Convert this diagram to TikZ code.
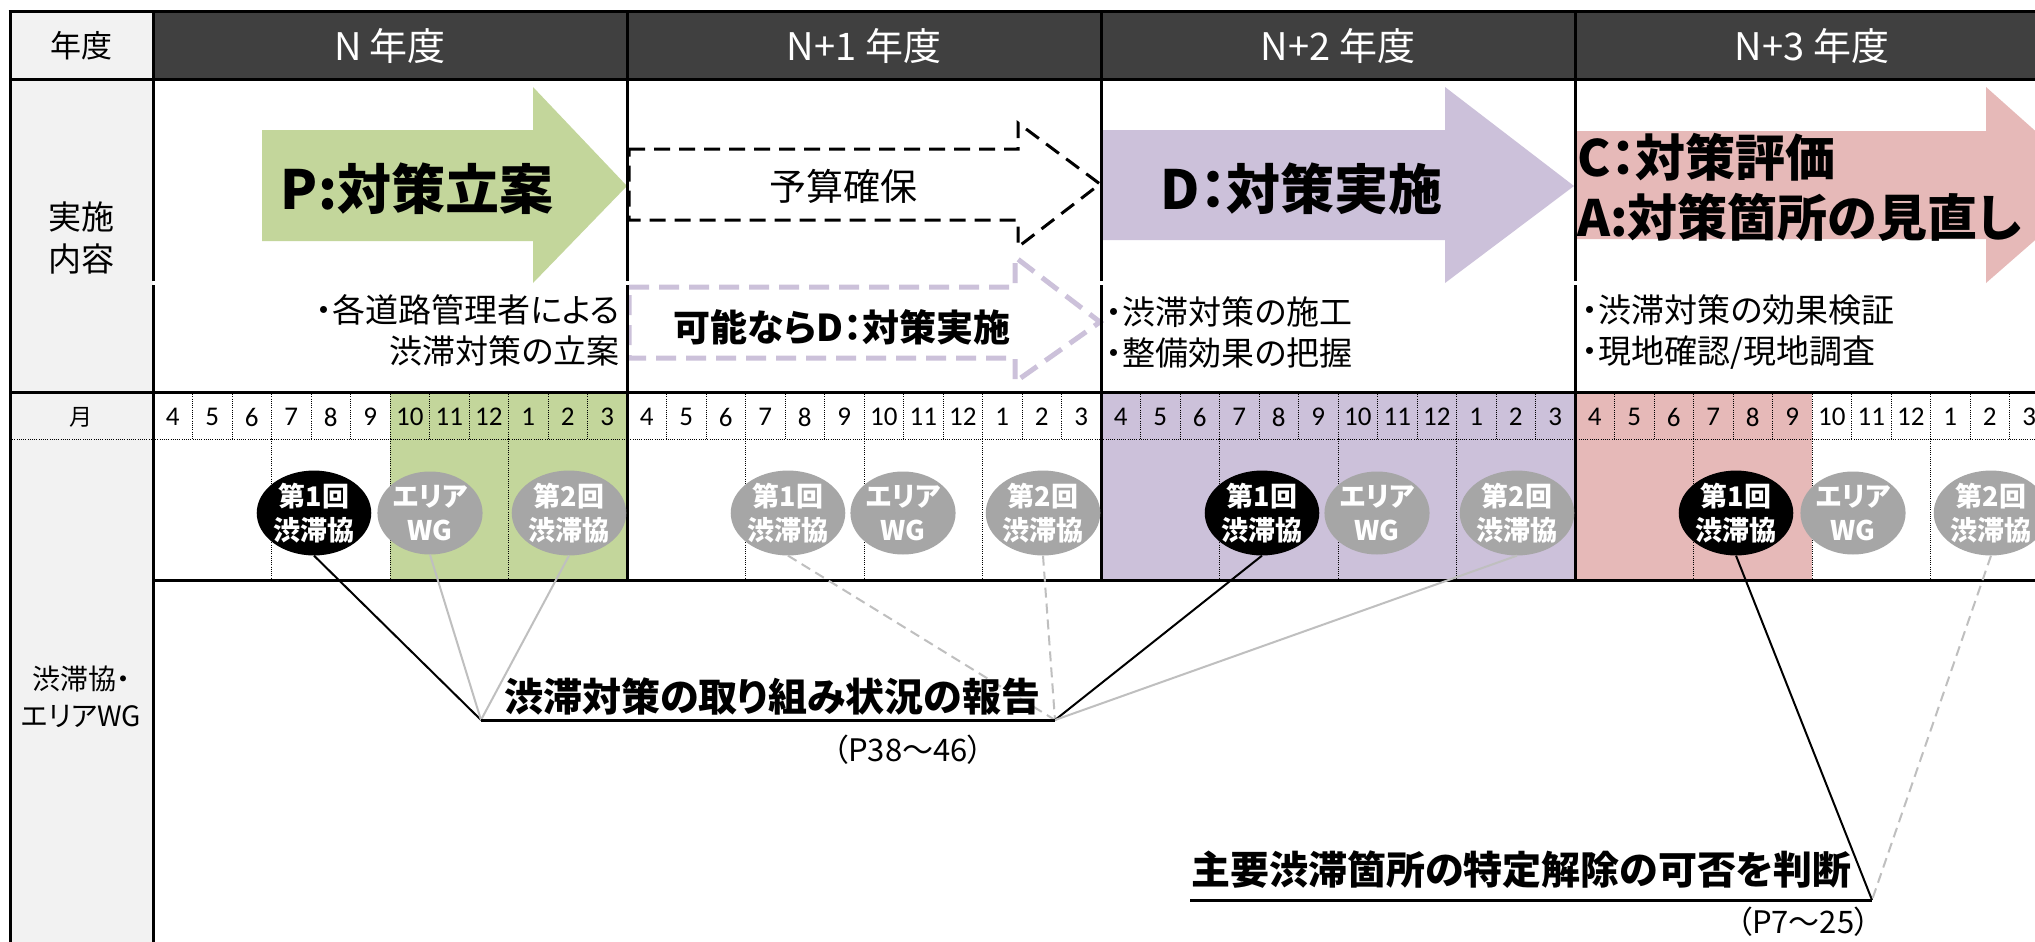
\documentclass[tikz,border=0pt]{standalone}
\usepackage{fontspec}
\setmainfont{Noto Sans CJK JP}[RawFeature=+palt]
\newfontfamily\digitfont{Carlito}
\usetikzlibrary{shapes.geometric}
\definecolor{hdr}{HTML}{404040}
\definecolor{lbl}{HTML}{F2F2F2}
\definecolor{grn}{HTML}{C3D69B}
\definecolor{lav}{HTML}{CCC1DA}
\definecolor{pnk}{HTML}{E6B9B8}
\definecolor{mgray}{HTML}{A6A6A6}
\definecolor{lgray}{HTML}{BFBFBF}
\newcommand{\fsz}[2]{\fontsize{#1}{#2}\selectfont}
\begin{document}
\begin{tikzpicture}[x=1pt,y=-1pt,
  rule/.style={line width=3pt, black},
  dotrule/.style={line width=0.9pt, black, dash pattern=on 1pt off 1.2pt},
  meet/.style={ellipse, minimum width=112pt, minimum height=83pt, inner sep=0pt,
    text=white, align=center, font=\bfseries\fsz{27}{34}},
  meetk/.style={meet, fill=black},
  meetg/.style={meet, fill=mgray},
  wgnode/.style={meet, fill=mgray, minimum width=90pt},
  lblnode/.style={inner sep=0pt, align=center, text=black},
  yrhead/.style={inner sep=0pt, text=white, font=\fsz{38}{42}},
  monum/.style={inner sep=0pt, font=\digitfont\fsz{27}{30}},
  desc/.style={inner sep=0pt, font=\fsz{33}{41}},
  link/.style={line width=2pt, black},
  glink/.style={line width=2pt, lgray},
  dlink/.style={line width=2pt, lgray, dash pattern=on 10pt off 6pt},
  bigtext/.style={inner sep=0pt, font=\bfseries\fsz{54}{60}}
]
\useasboundingbox (0,0) rectangle (2035,942);
\clip (0,0) rectangle (2035,942);
\fill[white] (0,0) rectangle (2035,942);

% ---------- fills ----------
\fill[lbl] (10,12) rectangle (153,960);
\fill[hdr] (153,12) rectangle (2060,80);
\fill[grn] (390,392) rectangle (627,580);
\fill[lav] (1101,392) rectangle (1575,580);
\fill[pnk] (1575,392) rectangle (1812,580);

% ---------- process arrows ----------
\fill[grn] (262,130) -- (533,130) -- (533,87) -- (627,186) -- (533,283) -- (533,241) -- (262,241) -- cycle;
\fill[lav] (1102,130) -- (1445,130) -- (1445,87) -- (1574,186) -- (1445,283) -- (1445,240) -- (1102,240) -- cycle;
\fill[pnk] (1575,131) -- (1986,131) -- (1986,87) -- (2097,186) -- (1986,283) -- (1986,239) -- (1575,239) -- cycle;
\draw[line width=3pt, black, dash pattern=on 16pt off 9pt]
  (629,149) -- (1018,149) -- (1018,123) -- (1100,184) -- (1018,247) -- (1018,220) -- (629,220) -- cycle;
\draw[line width=5pt, lav, dash pattern=on 20pt off 10pt]
  (629,287) -- (1015,287) -- (1015,257) -- (1100,322) -- (1015,382) -- (1015,358) -- (629,358) -- cycle;

% ---------- grid ----------
\foreach \k in {0,1,2,3} {
  \pgfmathsetmacro\Y{153+474*\k}
  \foreach \i in {1,...,11} {
    \draw[dotrule] ({\Y+39.5*\i},392) -- ({\Y+39.5*\i},439);
  }
  \foreach \i in {3,6,9} {
    \draw[dotrule] ({\Y+39.5*\i},439) -- ({\Y+39.5*\i},580);
  }
}
\draw[dotrule] (10,439) -- (2060,439);
\draw[rule] (8.5,12) -- (2060,12);
\draw[rule] (10,80) -- (2060,80);
\draw[rule] (10,392) -- (2060,392);
\draw[rule] (153,580) -- (2060,580);
\draw[rule] (10,10.5) -- (10,960);
\draw[rule] (153,12) -- (153,281);
\draw[rule] (153,285) -- (153,960);
\foreach \x in {627,1101,1575} {
  \draw[rule] (\x,12) -- (\x,281);
  \draw[rule] (\x,285) -- (\x,580);
}

% ---------- header texts ----------
\node[lblnode, font=\fsz{31}{34}] (lb-year) at (81,46) {年度};
\node[lblnode, font=\fsz{33}{42}] (lb-act) at (81,238) {実施\\内容};
\node[lblnode, font=\fsz{23}{26}] (lb-month) at (81,417) {月};
\node[lblnode, font=\fsz{28}{37}] (lb-meet) at (81,697) {渋滞協・\\エリアWG};

\foreach \k/\yr in {0/N,1/N+1,2/N+2,3/N+3} {
  \pgfmathsetmacro\Y{153+474*\k}
  \node[yrhead] (yh-\k) at ({\Y+237},46) {\yr{} 年度};
  \foreach \m [count=\i from 0] in {4,5,6,7,8,9,10,11,12,1,2,3} {
    \node[monum] (mo-\k-\i) at ({\Y+39.5*\i+19.75},417) {\m};
  }
}

% ---------- arrow texts ----------
\node[bigtext] (t-plan) at (417,189) {P:対策立案};
\node[inner sep=0pt, font=\fsz{37}{40}] (t-budget) at (843,186) {予算確保};
\node[inner sep=0pt, font=\bfseries\fsz{37}{40}] (t-ifpos) at (842,327) {可能ならD：対策実施};
\node[bigtext, anchor=west] (t-do) at (1160,189) {D：対策実施};
\node[inner sep=0pt, anchor=west, align=left, font=\bfseries\fsz{50}{60}] (t-ca) at (1577,187) {C：対策評価\\A:対策箇所の見直し};

\node[desc, anchor=east, align=right] (d-n) at (620,331) {・各道路管理者による\\渋滞対策の立案};
\node[desc, anchor=west, align=left] (d-n2) at (1106,332) {・渋滞対策の施工\\・整備効果の把握};
\node[desc, anchor=west, align=left] (d-n3) at (1582,332) {・渋滞対策の効果検証\\・現地確認/現地調査};

% ---------- meetings ----------
\node[meetk] (m1-0) at (314,513) {第1回\\渋滞協};
\node[wgnode] (wg-0) at (430,513) {エリア\\WG};
\node[meetg] (m2-0) at (569,513) {第2回\\渋滞協};
\node[meetg] (m1-1) at (788,513) {第1回\\渋滞協};
\node[wgnode] (wg-1) at (903,513) {エリア\\WG};
\node[meetg] (m2-1) at (1043,513) {第2回\\渋滞協};
\node[meetk] (m1-2) at (1262,513) {第1回\\渋滞協};
\node[wgnode] (wg-2) at (1377,513) {エリア\\WG};
\node[meetg] (m2-2) at (1517,513) {第2回\\渋滞協};
\node[meetk] (m1-3) at (1736,513) {第1回\\渋滞協};
\node[wgnode] (wg-3) at (1853,513) {エリア\\WG};
\node[meetg] (m2-3) at (1991,513) {第2回\\渋滞協};

% ---------- connectors ----------
\coordinate (L) at (481,720);
\coordinate (R) at (1055,720);
\coordinate (J0) at (1190,900);
\coordinate (J) at (1872,900);

\draw[link] (m1-0.south) -- (L);
\draw[glink] (wg-0.south) -- (L);
\draw[glink] (m2-0.south) -- (L);
\draw[dlink] (m1-1.south) -- (R);
\draw[dlink] (m2-1.south) -- (R);
\draw[link] (m1-2.south) -- (R);
\draw[glink] (m2-2.south) -- (R);
\draw[link] (m1-3.south) -- (J);
\draw[dlink] (m2-3.south) -- (J);

\draw[line width=3pt] (L) -- (R);
\draw[line width=3pt] (J0) -- (J);

\node[inner sep=0pt, anchor=west, font=\bfseries\fsz{39}{46}] (t-report) at (504,697) {渋滞対策の取り組み状況の報告};
\node[inner sep=0pt, font=\fsz{31}{34}] (t-p38) at (908,750) {（P38～46）};
\node[inner sep=0pt, anchor=west, font=\bfseries\fsz{39}{46}] (t-judge) at (1191,870) {主要渋滞箇所の特定解除の可否を判断};
\node[inner sep=0pt, anchor=east, font=\fsz{31}{34}] (t-p7) at (1870,922) {（P7～25）};
\end{tikzpicture}
\end{document}
